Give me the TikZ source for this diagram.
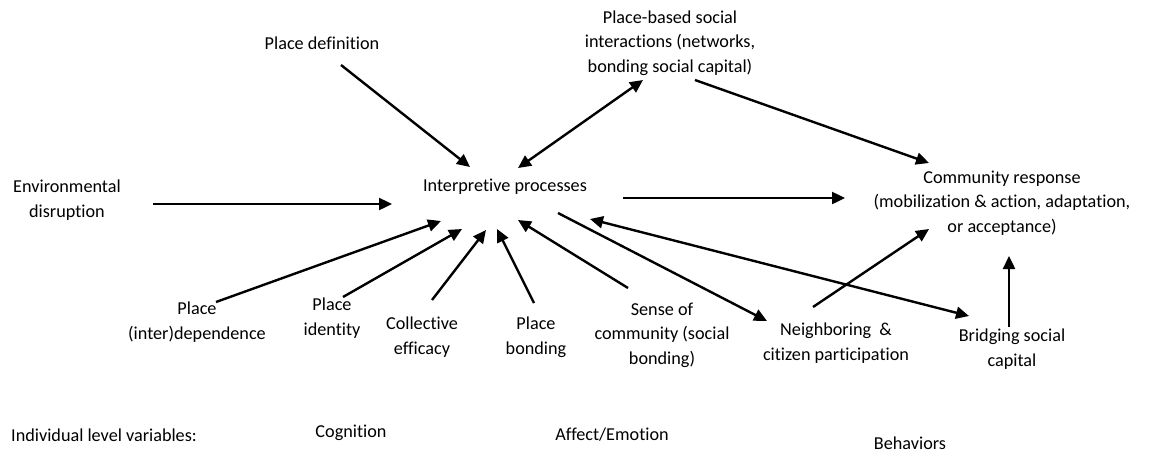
\documentclass[tikz,border=0pt]{standalone}
\usepackage{fontspec}
\setmainfont{Carlito}[Ligatures=NoCommon]
\usetikzlibrary{arrows.meta}
\begin{document}
\begin{tikzpicture}[x=1pt,y=-1pt,
  lbl/.style={inner sep=0pt,align=center,font=\fontsize{18.2}{24.5}\selectfont},
  arr/.style={line width=2.4pt,-{Triangle[length=13pt,width=12pt]}},
  biarr/.style={line width=2.4pt,{Triangle[length=13pt,width=12pt]}-{Triangle[length=13pt,width=12pt]}}]
\useasboundingbox[fill=white] (0,0) rectangle (1149,453);

% concepts
\node[lbl] (pd)    at (322,43)  {Place definition};
\node[lbl] (pb)    at (670,43)  {Place-based social\\interactions (networks,\\bonding social capital)};
\node[lbl] (env)   at (67,200)  {Environmental\\disruption};
\node[lbl] (ip)    at (505,187) {Interpretive processes};
\node[lbl] (cr)    at (1002,203){Community response\\(mobilization \& action, adaptation,\\or acceptance)};
\node[lbl] (pdep)  at (197,322) {Place\\(inter)dependence};
\node[lbl] (pid)   at (332,318) {Place\\identity};
\node[lbl] (ce)    at (422,337) {Collective\\efficacy};
\node[lbl] (pbond) at (536,337) {Place\\bonding};
\node[lbl] (soc)   at (662,335) {Sense of\\community (social\\bonding)};
\node[lbl] (nb)    at (836,343) {Neighboring~~\&\\citizen participation};
\node[lbl] (bsc)   at (1012,349){Bridging social\\capital};

% level labels
\node[lbl,anchor=west] (ind) at (11,435) {Individual level variables:};
\node[lbl] (cog) at (351,433) {Cognition};
\node[lbl] (aff) at (612,435) {Affect/Emotion};
\node[lbl] (beh) at (910,443) {Behaviors};

% connectors
\draw[arr] ([shift={(19,22)}]pd.center) -- ([shift={(-35,-20)}]ip.center);
\draw[biarr] ([shift={(13,-19)}]ip.center) -- ([shift={(-27,37)}]pb.center);
\draw[arr] ([shift={(25,37)}]pb.center) -- ([shift={(-73,-40)}]cr.center);
\draw[arr] ([shift={(86,4)}]env.center) -- ([shift={(-113,17)}]ip.center);
\draw[arr] ([shift={(118,11)}]ip.center) -- ([shift={(-157,-5)}]cr.center);
\draw[arr] ([shift={(19,-20)}]pdep.center) -- ([shift={(-64,34)}]ip.center);
\draw[arr] ([shift={(11,-21)}]pid.center) -- ([shift={(-43,42)}]ip.center);
\draw[arr] ([shift={(10,-37)}]ce.center) -- ([shift={(-19,43)}]ip.center);
\draw[arr] ([shift={(-2,-34)}]pbond.center) -- ([shift={(-8,42)}]ip.center);
\draw[arr] ([shift={(-34,-47)}]soc.center) -- ([shift={(13,33)}]ip.center);
\draw[arr] ([shift={(53,26)}]ip.center) -- ([shift={(-69,-22)}]nb.center);
\draw[biarr] ([shift={(85,32)}]ip.center) -- ([shift={(-43,-33)}]bsc.center);
\draw[arr] ([shift={(-23,-36)}]nb.center) -- ([shift={(-73,26)}]cr.center);
\draw[arr] ([shift={(-3,-22)}]bsc.center) -- ([shift={(7,53)}]cr.center);
\end{tikzpicture}
\end{document}
